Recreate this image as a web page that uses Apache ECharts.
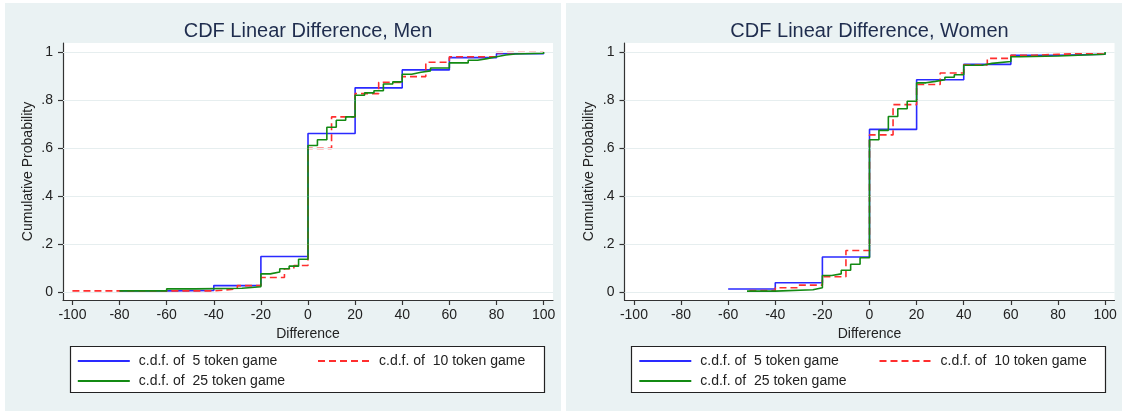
<!DOCTYPE html>
<html><head><meta charset="utf-8">
<script src="https://cdn.jsdelivr.net/npm/echarts@6/dist/echarts.min.js"></script>
<style>html,body{margin:0;padding:0;background:#fff}#c{width:1122px;height:411px}</style>
</head><body><div id="c"></div>
<script>
// ---- tick labels / categories ----
const xTicks = [-100, -80, -60, -40, -20, 0, 20, 40, 60, 80, 100];
const yTicks = [0, 0.2, 0.4, 0.6, 0.8, 1];
const yTickLabels = ['0', '.2', '.4', '.6', '.8', '1'];
const seriesNames = ['c.d.f. of  5 token game', 'c.d.f. of  10 token game', 'c.d.f. of  25 token game'];
const panelTitles = ['CDF Linear Difference, Men', 'CDF Linear Difference, Women'];

// ---- Men ----
const men5X = [-80, -60, -40, -20, 0, 20, 40, 60, 80, 100];
const men5Y = [0.004, 0.006, 0.026, 0.147, 0.660, 0.850, 0.925, 0.976, 0.992, 1.0];
const men10X = [-100, -40, -30, -20, -10, -6, 0, 10, 20, 30, 40, 50, 60, 80, 100];
const men10Y = [0.004, 0.012, 0.026, 0.060, 0.096, 0.110, 0.598, 0.729, 0.826, 0.873, 0.897, 0.957, 0.980, 0.997, 1.0];
const men25X = [-80, -60, -48, -28, -20, -16, -12, -8, -4, 0, 4, 8, 12, 16, 20, 24, 28, 32, 36, 40, 44, 48, 52, 60, 68, 72, 76, 80, 84, 88, 100];
const men25Y = [0.004, 0.0125, 0.015, 0.021, 0.075, 0.083, 0.096, 0.107, 0.136, 0.610, 0.634, 0.686, 0.715, 0.729, 0.819, 0.829, 0.838, 0.866, 0.875, 0.907, 0.915, 0.921, 0.933, 0.954, 0.965, 0.972, 0.980, 0.987, 0.991, 0.994, 1.0];

// ---- Women ----
const women5X = [-60, -40, -20, 0, 20, 40, 60, 80, 100];
const women5Y = [0.012, 0.038, 0.145, 0.677, 0.884, 0.948, 0.986, 0.990, 1.0];
const women10X = [-51, -40, -30, -20, -10, 0, 10, 20, 30, 40, 50, 60, 70, 80, 100];
const women10Y = [0.005, 0.017, 0.028, 0.063, 0.172, 0.654, 0.780, 0.864, 0.912, 0.946, 0.973, 0.986, 0.990, 0.996, 1.0];
const women25X = [-52, -40, -24, -20, -16, -12, -8, -4, 0, 4, 8, 12, 16, 20, 24, 28, 32, 36, 40, 48, 52, 60, 64, 80, 100];
const women25Y = [0.003, 0.009, 0.017, 0.068, 0.075, 0.090, 0.115, 0.142, 0.634, 0.673, 0.731, 0.763, 0.794, 0.871, 0.877, 0.884, 0.894, 0.905, 0.944, 0.952, 0.960, 0.980, 0.983, 0.990, 1.0];

const zip = (xs, ys) => xs.map((x, i) => [x, ys[i]]);
const panels = [
  [zip(men5X, men5Y), zip(men10X, men10Y), zip(men25X, men25Y)],
  [zip(women5X, women5Y), zip(women10X, women10Y), zip(women25X, women25Y)]
];

const FONT = 'Liberation Sans, Arial, Helvetica, sans-serif';
const colors = ['#2a2aff', '#ff2e2e', '#138a13'];
const lineTypes = ['solid', [7, 4], 'solid'];
const PANEL_W = 561;
const GRID = { left: 63, top: 43, width: 490, height: 257 };
const legendSlots = [[76.8, 354], [317, 354], [76.8, 374]];

const chart = echarts.init(document.getElementById('c'), null, { renderer: 'canvas' });

const grids = [], xAxes = [], yAxes = [], series = [], titles = [], legends = [];
panels.forEach((data, p) => {
  const ox = p * PANEL_W + (p === 1 ? 0.5 : 0);
  grids.push({ left: GRID.left + ox, top: GRID.top, width: GRID.width, height: GRID.height,
    show: true, backgroundColor: '#ffffff', borderWidth: 0, containLabel: false });
  xAxes.push({ type: 'value', gridIndex: p, min: -104, max: 104,
    name: 'Difference', nameLocation: 'middle', nameGap: 23,
    nameTextStyle: { fontFamily: FONT, fontSize: 14, color: '#222' },
    axisLine: { show: true, onZero: false, lineStyle: { color: '#333', width: 1.2 } },
    axisTick: { show: true, inside: false, length: 5, customValues: xTicks, lineStyle: { color: '#333', width: 1.2 } },
    axisLabel: { customValues: xTicks, margin: 8, fontFamily: FONT, fontSize: 14, color: '#222' },
    splitLine: { show: false } });
  yAxes.push({ type: 'value', gridIndex: p, min: -0.034, max: 1.037,
    name: 'Cumulative Probability', nameLocation: 'middle', nameGap: 28, nameRotate: 90,
    nameTextStyle: { fontFamily: FONT, fontSize: 14, color: '#222' },
    axisLine: { show: true, onZero: false, lineStyle: { color: '#333', width: 1.2 } },
    axisTick: { show: true, inside: false, length: 5, customValues: yTicks, lineStyle: { color: '#333', width: 1.2 } },
    axisLabel: { customValues: yTicks, margin: 10, fontFamily: FONT, fontSize: 14, color: '#222',
      formatter: v => { const i = yTicks.findIndex(t => Math.abs(t - v) < 1e-9); return i >= 0 ? yTickLabels[i] : ''; } },
    splitLine: { show: false } });
  // gridlines
  series.push({ type: 'line', xAxisIndex: p, yAxisIndex: p, data: [], silent: true, z: 1,
    markLine: { silent: true, symbol: ['none', 'none'], label: { show: false },
      lineStyle: { color: '#e6eeef', type: 'solid', width: 1.2 }, animation: false,
      data: yTicks.map(v => ({ yAxis: v })) } });
  data.forEach((d, s) => {
    series.push({ type: 'line', name: seriesNames[s], xAxisIndex: p, yAxisIndex: p, data: d,
      step: 'end', symbol: 'none', showSymbol: false, z: 3 + s,
      lineStyle: { color: colors[s], width: 1.6, type: lineTypes[s] },
      itemStyle: { color: colors[s] } });
  });
  titles.push({ text: panelTitles[p], left: GRID.left + ox + GRID.width / 2, top: 21, textAlign: 'center', padding: 0,
    textStyle: { fontFamily: FONT, fontSize: 20, fontWeight: 'normal', color: '#1f2d4e' } });
  seriesNames.forEach((nm, s) => {
    legends.push({ orient: 'horizontal', left: legendSlots[s][0] + ox, top: legendSlots[s][1], padding: 0,
      itemWidth: 52, itemHeight: 14, selectedMode: false,
      itemStyle: { color: 'rgba(0,0,0,0)', borderColor: 'rgba(0,0,0,0)', borderWidth: 0, opacity: 0 },
      textStyle: { fontFamily: FONT, fontSize: 14, color: '#222', padding: [0, 0, 0, 4] },
      data: [nm] });
  });
});

const graphics = [
  { type: 'rect', shape: { x: 0, y: 0, width: 1122, height: 3 }, style: { fill: '#fff' }, silent: true, z: -5 },
  { type: 'rect', shape: { x: 0, y: 0, width: 5, height: 411 }, style: { fill: '#fff' }, silent: true, z: -5 },
  { type: 'rect', shape: { x: 561, y: 0, width: 5, height: 411 }, style: { fill: '#fff' }, silent: true, z: -5 },
  { type: 'rect', shape: { x: 70.5, y: 346.5, width: 474, height: 46 }, style: { fill: '#fff', stroke: '#222', lineWidth: 1.2 }, silent: true, z: -1 },
  { type: 'rect', shape: { x: 631.5, y: 346.5, width: 474, height: 46 }, style: { fill: '#fff', stroke: '#222', lineWidth: 1.2 }, silent: true, z: -1 }
];

chart.setOption({
  animation: false,
  backgroundColor: '#eaf2f3',
  title: titles,
  grid: grids,
  xAxis: xAxes,
  yAxis: yAxes,
  legend: legends,
  graphic: graphics,
  series: series
});
</script></body></html>
